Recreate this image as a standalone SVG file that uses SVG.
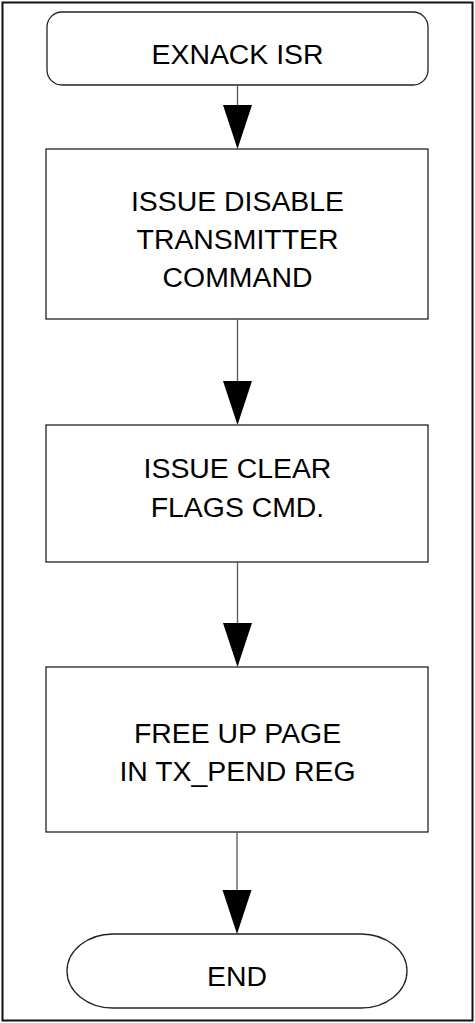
<svg xmlns="http://www.w3.org/2000/svg" width="475" height="1023" viewBox="0 0 475 1023">
<style>
.shape{fill:#fff;stroke:#222;stroke-width:1.3}
.lbl{font-family:"Liberation Sans",Arial,sans-serif;font-size:28.4px;fill:#000;text-anchor:middle}
.conn{stroke:#555;stroke-width:1.3;fill:none}
.head{fill:#000}
</style>
<rect x="2.5" y="2.5" width="470" height="1018" fill="#fff" stroke="#111" stroke-width="2"/>
<g id="start">
<rect class="shape" x="47" y="12" width="381" height="73" rx="15" ry="15"/>
<text class="lbl" x="237.5" y="64">EXNACK ISR</text>
</g>
<g id="disable">
<rect class="shape" x="46" y="149" width="382" height="170"/>
<text class="lbl" x="237.5" y="211">ISSUE DISABLE</text>
<text class="lbl" x="237.5" y="249">TRANSMITTER</text>
<text class="lbl" x="237.5" y="287">COMMAND</text>
</g>
<g id="clear">
<rect class="shape" x="46" y="425" width="382" height="137"/>
<text class="lbl" x="237.5" y="478">ISSUE CLEAR</text>
<text class="lbl" x="237.5" y="517">FLAGS CMD.</text>
</g>
<g id="free">
<rect class="shape" x="46" y="667" width="382" height="165"/>
<text class="lbl" x="237.5" y="743">FREE UP PAGE</text>
<text class="lbl" x="237.5" y="781">IN TX_PEND REG</text>
</g>
<g id="end">
<rect class="shape" x="67" y="934" width="340" height="74" rx="46" ry="37"/>
<text class="lbl" x="237" y="986">END</text>
</g>
<g id="connectors">
<line class="conn" x1="237.5" y1="85" x2="237.5" y2="110"/>
<polygon class="head" points="223,105 252,105 237.5,149"/>
<line class="conn" x1="237.5" y1="319" x2="237.5" y2="385"/>
<polygon class="head" points="223,381 252,381 237.5,425"/>
<line class="conn" x1="237.5" y1="562" x2="237.5" y2="628"/>
<polygon class="head" points="223,623 252,623 237.5,667"/>
<line class="conn" x1="237" y1="832" x2="237" y2="895"/>
<polygon class="head" points="222.5,890 251.5,890 237,934"/>
</g>
</svg>
